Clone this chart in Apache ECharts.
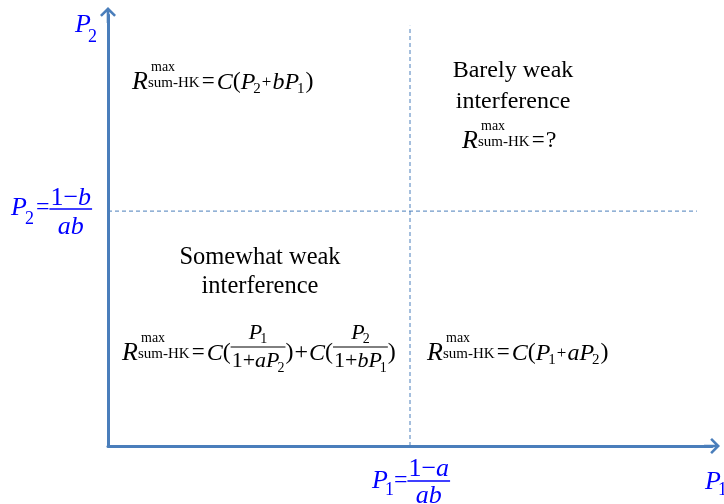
<!DOCTYPE html>
<html>
<head>
<meta charset="utf-8">
<script src="https://cdn.jsdelivr.net/npm/echarts@6/dist/echarts.min.js"></script>
<style>
  html, body { margin: 0; padding: 0; background: #ffffff; }
  #chart { width: 724px; height: 504px; }
</style>
</head>
<body>
<div id="chart"></div>
<script>
// Power levels (normalised to each axis) where the interference regime changes
const p1Threshold = [0.5];
const p2Threshold = [0.545];
// How far each dashed boundary runs toward the arrow tips
const boundaryReach = [0.975];

const AXIS_BLUE = '#4a7ebb';
const LABEL_BLUE = '#0000ff';
const INK = '#000000';
const SERIF = '"Liberation Serif", "Times New Roman", serif';

// ---------- small text-layout helpers for the math annotations ----------
const measureCtx = document.createElement('canvas').getContext('2d');
function fontOf(size, italic) { return (italic ? 'italic ' : '') + size + 'px ' + SERIF; }
function widthOf(t, size, italic) { measureCtx.font = fontOf(size, italic); return measureCtx.measureText(t).width; }
function glyph(t, x, base, size, italic, color, align) {
  return {
    type: 'text', silent: true, z: 10,
    style: { text: t, x: x, y: base - 0.2 * size, font: fontOf(size, italic), fill: color,
             verticalAlign: 'middle', align: align || 'left' }
  };
}
// token: [text, size, italic, baselineShift, gapBefore]
function runWidth(toks) {
  return toks.reduce((w, tk) => w + (tk[4] || 0) + widthOf(tk[0], tk[1], tk[2]), 0);
}
function run(toks, x, base, color, out) {
  toks.forEach(tk => {
    x += tk[4] || 0;
    out.push(glyph(tk[0], x, base + (tk[3] || 0), tk[1], tk[2], color));
    x += widthOf(tk[0], tk[1], tk[2]);
  });
  return x;
}
function fraction(num, den, x, barY, numBase, denBase, color, pad, barW, out) {
  const wn = runWidth(num), wd = runWidth(den);
  const w = Math.max(wn, wd) + 2 * pad;
  out.push({ type: 'line', silent: true, z: 10,
    shape: { x1: x, y1: barY, x2: x + w, y2: barY },
    style: { stroke: color, lineWidth: barW } });
  run(num, x + (w - wn) / 2, numBase, color, out);
  run(den, x + (w - wd) / 2, denBase, color, out);
  return x + w;
}
// R^{max}_{sum-HK}
function rsum(x, base, out) {
  out.push(glyph('R', x, base, 26, true, INK));
  out.push(glyph('max', x + 19, base - 17, 14, false, INK));
  out.push(glyph('sum-HK', x + 16, base - 1, 15, false, INK));
  return x + 16 + widthOf('sum-HK', 15, false);
}

const M = 24, S = 15;
const g = [];

// Upper-left region: C(P2 + bP1)
(function () {
  let x = rsum(132, 87, g);
  run([['=', 23, false, 0, 2], ['C', M, true, 0, 2], ['(', M, false], ['P', M, true],
       ['2', S, false, 5, -2], ['+', 17, false, -1, 1], ['b', M, true, 0, 1], ['P', M, true],
       ['1', S, false, 5, -2], [')', M, false, 0, 1]], x, 87, INK, g);
})();

// Upper-right region
g.push(glyph('Barely weak', 513, 76, 24, false, INK, 'center'));
g.push(glyph('interference', 513, 107, 24, false, INK, 'center'));
(function () {
  let x = rsum(462, 146, g);
  run([['=', 23, false, 0, 2], ['?', M, false, 0, 1]], x, 146, INK, g);
})();

// Lower-left region
g.push(glyph('Somewhat weak', 260, 262, 24.5, false, INK, 'center'));
g.push(glyph('interference', 260, 291, 24.5, false, INK, 'center'));
(function () {
  const base = 358, F = 22, FS = 14;
  let x = rsum(122, base, g);
  x = run([['=', 23, false, 0, 2], ['C', M, true, 0, 2], ['(', M, false]], x, base, INK, g);
  x = fraction([['P', F, true], ['1', FS, false, 4, -2]],
               [['1', F, false], ['+', F, false], ['a', F, true], ['P', F, true], ['2', FS, false, 5, -2]],
               x, 347, 338, 366, INK, 1, 1, g);
  x = run([[')', M, false], ['+', M, false, 0, 1], ['C', M, true, 0, 1], ['(', M, false]], x, base, INK, g);
  x = fraction([['P', F, true], ['2', FS, false, 4, -2]],
               [['1', F, false], ['+', F, false], ['b', F, true], ['P', F, true], ['1', FS, false, 5, -2]],
               x, 347, 338, 366, INK, 1, 1, g);
  run([[')', M, false]], x, base, INK, g);
})();

// Lower-right region: C(P1 + aP2)
(function () {
  let x = rsum(427, 358, g);
  run([['=', 23, false, 0, 2], ['C', M, true, 0, 2], ['(', M, false], ['P', M, true],
       ['1', S, false, 5, -2], ['+', 17, false, -1, 1], ['a', M, true, 0, 1], ['P', M, true],
       ['2', S, false, 5, -2], [')', M, false, 0, 1]], x, 358, INK, g);
})();

// Axis names and threshold labels
g.push(glyph('P', 75, 30, 26, true, LABEL_BLUE));
g.push(glyph('2', 88, 41, 18, false, LABEL_BLUE));
g.push(glyph('P', 705, 487, 26, true, LABEL_BLUE));
g.push(glyph('1', 718, 494, 18, false, LABEL_BLUE));
(function () {
  let x = run([['P', 26, true], ['2', 18, false, 10, -2], ['=', 24, false, 0, 2]], 11, 213, LABEL_BLUE, g);
  fraction([['1', 26, false], ['\u2212', 26, false], ['b', 26, true]], [['a', 26, true], ['b', 26, true]],
           x, 209, 203, 232, LABEL_BLUE, 1, 1.5, g);
})();
(function () {
  let x = run([['P', 26, true], ['1', 18, false, 8, -3], ['=', 24, false, 0, 0]], 372, 486, LABEL_BLUE, g);
  fraction([['1', 26, false], ['\u2212', 26, false], ['a', 26, true]], [['a', 26, true], ['b', 26, true]],
           x, 481, 474, 501, LABEL_BLUE, 1, 1.5, g);
})();

// ---------- chart ----------
// Open arrowhead (with a short shaft so it joins the axis line), pointing up before rotation
const ARROW = 'path://M8,0 L16,8 L14.2,9.8 L9.3,4.9 L9.3,16 L6.7,16 L6.7,4.9 L1.8,9.8 L0,8 Z';

function bareAxis() {
  return {
    type: 'value', min: 0, max: 1,
    axisLine: { show: true, symbol: ['none', ARROW], symbolSize: [16, 16],
                lineStyle: { color: AXIS_BLUE, width: 3 } },
    axisTick: { show: false }, axisLabel: { show: false }, splitLine: { show: false }
  };
}

const dashed = { color: AXIS_BLUE, width: 1, type: [4, 3] };

const chart = echarts.init(document.getElementById('chart'), null, { renderer: 'canvas' });
chart.setOption({
  animation: false,
  backgroundColor: '#ffffff',
  grid: { left: 108, right: 12, top: 15, bottom: 58 },
  xAxis: bareAxis(),
  yAxis: bareAxis(),
  series: [
    { type: 'line', silent: true, symbol: 'none', lineStyle: dashed,
      data: [[p1Threshold[0], 0], [p1Threshold[0], boundaryReach[0]]] },
    { type: 'line', silent: true, symbol: 'none', lineStyle: dashed,
      data: [[0, p2Threshold[0]], [boundaryReach[0], p2Threshold[0]]] }
  ],
  graphic: g
});
</script>
</body>
</html>
